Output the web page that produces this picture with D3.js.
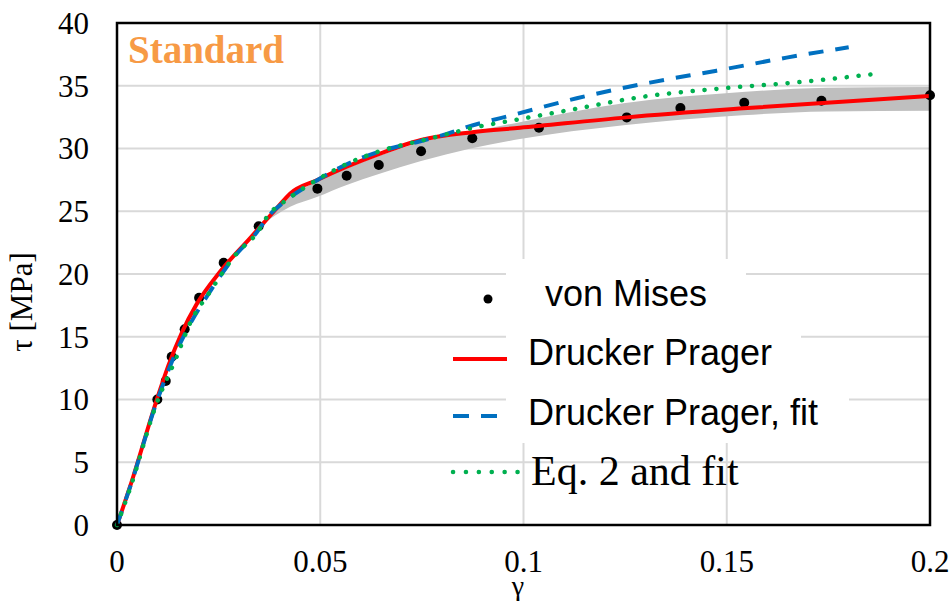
<!DOCTYPE html>
<html>
<head>
<meta charset="utf-8">
<script src="https://cdn.jsdelivr.net/npm/d3@7"></script>
<style>
  body { margin: 0; background: #fff; }
  svg { display: block; }
</style>
</head>
<body>
<div id="chart"></div>
<script>
// von Mises points (gamma, tau)
const vonMises = [[0,0],[0.00992,10.0],[0.0120,11.47],[0.01345,13.4],[0.01665,15.6],[0.0202,18.1],
  [0.02624,20.9],[0.03485,23.8],[0.0493,26.8],[0.0565,27.83],[0.0644,28.69],[0.0748,29.78],
  [0.0874,30.81],[0.1038,31.66],[0.1254,32.48],[0.1386,33.23],[0.1543,33.65],[0.1733,33.81],[0.2,34.24]]

const druckerPrager = [[0,0],[0.0032,3.05],[0.00976,9.96],[0.01263,12.7],[0.01591,15.3],[0.0196,17.6],
  [0.02534,20.18],[0.0327,22.84],[0.0393,25.24],[0.04256,26.4],[0.04927,27.49],[0.0565,28.55],
  [0.0644,29.56],[0.0748,30.68],[0.0874,31.3],[0.0991,31.65],[0.1254,32.48],[0.1541,33.2],[0.2,34.18]]

const druckerPragerFit = [[0,0],[0.0032,3.0],[0.00976,9.8],[0.0135,13.0],[0.01796,16.0],[0.02288,18.6],
  [0.02944,21.6],[0.03436,23.3],[0.03723,24.6],[0.04173,25.9],[0.04912,27.45],[0.0569,28.8],
  [0.0655,29.85],[0.0737,30.5],[0.0795,31.0],[0.086,31.7],[0.0983,32.75],[0.1131,34.0],
  [0.1311,35.25],[0.1475,36.2],[0.1647,37.24],[0.18,38.07]]

const eq2Fit = [[0,0],[0.0032,2.9],[0.00976,9.7],[0.01467,13.4],[0.01796,16.07],[0.02288,18.59],
  [0.02944,21.65],[0.03436,23.24],[0.03723,24.7],[0.04173,25.9],[0.04912,27.49],[0.0569,28.82],
  [0.0655,29.88],[0.0737,30.54],[0.0795,31.0],[0.0877,31.66],[0.0967,32.2],[0.1114,33.07],
  [0.1295,34.13],[0.1492,34.8],[0.1672,35.27],[0.1877,35.99]]

// grey scatter band
const bandX    = [0.035,0.0426,0.0493,0.0565,0.0644,0.0748,0.087,0.0991,0.1246,0.1538,0.1746,0.2]
const bandLow  = [23.8,25.36,26.16,27.1,27.97,29.0,30.0,30.75,31.85,32.65,32.95,33.0]
const bandHigh = [23.8,26.2,27.4,28.4,29.4,30.5,31.3,32.1,33.6,34.5,34.85,34.9]

const xTicks = [0, 0.05, 0.1, 0.15, 0.2]
const xTickLabels = ['0', '0.05', '0.1', '0.15', '0.2']
const yTicks = [0, 5, 10, 15, 20, 25, 30, 35, 40]

const legendLabels = ['von Mises', 'Drucker Prager', 'Drucker Prager, fit', 'Eq. 2 and fit']

const W = 951, H = 606
const margin = {left: 117, right: 21, top: 23, bottom: 81}
const serif = '"Liberation Serif", "Times New Roman", serif'
const sans = '"Liberation Sans", Arial, sans-serif'

var svg = d3.select('#chart').append('svg')
  .attr('width', W).attr('height', H)

var x = d3.scaleLinear().domain([0, 0.2]).range([margin.left, W - margin.right])
var y = d3.scaleLinear().domain([0, 40]).range([H - margin.bottom, margin.top])

// gridlines
svg.append('g').selectAll('line.v')
  .data(xTicks.slice(1, -1)).join('line')
  .attr('x1', d => x(d)).attr('x2', d => x(d))
  .attr('y1', y(0)).attr('y2', y(40))
  .attr('stroke', '#d9d9d9').attr('stroke-width', 2)
svg.append('g').selectAll('line.h')
  .data(yTicks.slice(1, -1)).join('line')
  .attr('x1', x(0)).attr('x2', x(0.2))
  .attr('y1', d => y(d)).attr('y2', d => y(d))
  .attr('stroke', '#d9d9d9').attr('stroke-width', 2)

// legend backgrounds (hide gridlines behind the legend text)
const legendBg = [[506, 259, 746, 326], [506, 326, 801, 387], [506, 387, 849, 443]]
svg.append('g').selectAll('rect')
  .data(legendBg).join('rect')
  .attr('x', d => d[0]).attr('y', d => d[1])
  .attr('width', d => d[2] - d[0]).attr('height', d => d[3] - d[1])
  .attr('fill', '#fff')

// band
var band = bandX.map((v, i) => ({x: v, lo: bandLow[i], hi: bandHigh[i]}))
svg.append('path')
  .datum(band)
  .attr('fill', '#bfbfbf')
  .attr('d', d3.area().curve(d3.curveMonotoneX)
    .x(d => x(d.x)).y0(d => y(d.lo)).y1(d => y(d.hi)))

// points
svg.append('g').selectAll('circle')
  .data(vonMises).join('circle')
  .attr('cx', d => x(d[0])).attr('cy', d => y(d[1]))
  .attr('r', 5).attr('fill', '#000')

var line = d3.line().curve(d3.curveMonotoneX)
  .x(d => x(d[0])).y(d => y(d[1]))

svg.append('path').datum(druckerPrager)
  .attr('d', line).attr('fill', 'none')
  .attr('stroke', '#ff0000').attr('stroke-width', 4)
svg.append('path').datum(druckerPragerFit)
  .attr('d', line).attr('fill', 'none')
  .attr('stroke', '#0070c0').attr('stroke-width', 4)
  .attr('stroke-dasharray', '15 12')
svg.append('path').datum(eq2Fit)
  .attr('d', line).attr('fill', 'none')
  .attr('stroke', '#00b050').attr('stroke-width', 4.5)
  .attr('stroke-linecap', 'round')
  .attr('stroke-dasharray', '0.1 11.8')

// frame
svg.append('rect')
  .attr('x', x(0)).attr('y', y(40))
  .attr('width', x(0.2) - x(0)).attr('height', y(0) - y(40))
  .attr('fill', 'none').attr('stroke', '#000').attr('stroke-width', 2.5)

// tick labels
svg.append('g').selectAll('text')
  .data(yTicks).join('text')
  .attr('x', 89).attr('y', d => y(d)).attr('dy', '0.35em')
  .attr('text-anchor', 'end')
  .style('font-family', serif).style('font-size', '31px')
  .text(d => d)
svg.append('g').selectAll('text')
  .data(xTicks).join('text')
  .attr('x', d => x(d)).attr('y', 572)
  .attr('text-anchor', 'middle')
  .style('font-family', serif).style('font-size', '31px')
  .text((d, i) => xTickLabels[i])

// axis titles
svg.append('text')
  .attr('transform', 'translate(32,302) rotate(-90)')
  .attr('text-anchor', 'middle')
  .style('font-family', serif).style('font-size', '31px')
  .text('τ [MPa]')
svg.append('text')
  .attr('x', 518).attr('y', 595)
  .attr('text-anchor', 'middle')
  .style('font-family', serif).style('font-size', '28px')
  .text('γ')

svg.append('text')
  .attr('x', 128).attr('y', 63)
  .style('font-family', serif).style('font-size', '39px').style('font-weight', 'bold')
  .attr('fill', '#f79a45')
  .text('Standard')

// legend
var lg = svg.append('g')
lg.append('circle').attr('cx', 488).attr('cy', 299).attr('r', 4.5).attr('fill', '#000')
lg.append('line').attr('x1', 453).attr('x2', 507).attr('y1', 359).attr('y2', 359)
  .attr('stroke', '#ff0000').attr('stroke-width', 4)
lg.append('line').attr('x1', 453).attr('x2', 497).attr('y1', 416).attr('y2', 416)
  .attr('stroke', '#0070c0').attr('stroke-width', 4).attr('stroke-dasharray', '16 12')
lg.append('line').attr('x1', 453).attr('x2', 518).attr('y1', 472).attr('y2', 472)
  .attr('stroke', '#00b050').attr('stroke-width', 4.5)
  .attr('stroke-linecap', 'round').attr('stroke-dasharray', '0.1 12.8')

const legendText = [[545, 306, sans, 36], [528, 365, sans, 36], [528, 425, sans, 36], [531, 485, serif, 42]]
lg.selectAll('text.lab')
  .data(legendLabels).join('text')
  .attr('x', (d, i) => legendText[i][0]).attr('y', (d, i) => legendText[i][1])
  .style('font-family', (d, i) => legendText[i][2])
  .style('font-size', (d, i) => legendText[i][3] + 'px')
  .attr('fill', '#000')
  .text(d => d)
</script>
</body>
</html>
